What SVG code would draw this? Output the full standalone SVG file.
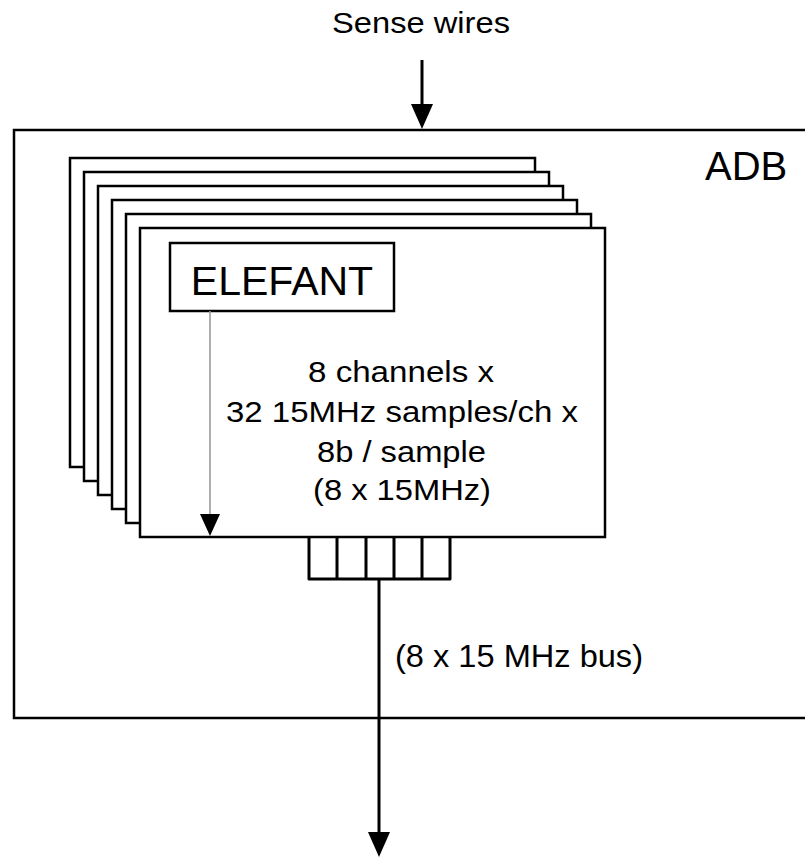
<svg xmlns="http://www.w3.org/2000/svg" width="805" height="859" viewBox="0 0 805 859">
  <style>
    .box { fill: #ffffff; stroke: #000000; stroke-width: 2.5; }
    .txt { font-family: "Liberation Sans", Arial, sans-serif; fill: #000000; }
    .wire { stroke: #000000; stroke-width: 3; fill: none; }
    .gray { stroke: #9a9a9a; stroke-width: 1.6; fill: none; }
  </style>
  <defs>
    <marker id="head" viewBox="0 0 25 22" refX="4" refY="11" markerWidth="25" markerHeight="22" markerUnits="userSpaceOnUse" orient="auto">
      <path d="M0,0 L25,11 L0,22 Z" fill="#000000"/>
    </marker>
    <marker id="headSmall" viewBox="0 0 22 20" refX="4" refY="10" markerWidth="22" markerHeight="20" markerUnits="userSpaceOnUse" orient="auto">
      <path d="M0,0 L22,10 L0,20 Z" fill="#000000"/>
    </marker>
  </defs>
  <rect width="805" height="859" fill="#ffffff"/>

  <g id="label-sense">
    <text class="txt" x="332" y="33" font-size="30" textLength="178" lengthAdjust="spacingAndGlyphs">Sense wires</text>
  </g>

  <g id="adb">
    <rect class="box" x="14" y="130" width="800" height="588" stroke-width="2"/>
    <text class="txt" x="705" y="180" font-size="40">ADB</text>
  </g>

  <g id="cards">
    <rect class="box" x="70" y="158" width="465" height="309"/>
    <rect class="box" x="84" y="172" width="465" height="309"/>
    <rect class="box" x="98" y="186" width="465" height="309"/>
    <rect class="box" x="112" y="200" width="465" height="309"/>
    <rect class="box" x="126" y="214" width="465" height="309"/>
  </g>

  <g id="front-card">
    <rect class="box" x="140" y="228" width="465" height="309"/>
    <text class="txt" x="308" y="382" font-size="30" textLength="186" lengthAdjust="spacingAndGlyphs">8 channels x</text>
    <text class="txt" x="226" y="422" font-size="30" textLength="352" lengthAdjust="spacingAndGlyphs">32 15MHz samples/ch x</text>
    <text class="txt" x="317" y="462" font-size="30" textLength="169" lengthAdjust="spacingAndGlyphs">8b / sample</text>
    <text class="txt" x="313" y="500" font-size="30" textLength="178" lengthAdjust="spacingAndGlyphs">(8 x 15MHz)</text>
  </g>

  <g id="elefant">
    <rect class="box" x="170" y="243" width="224" height="68"/>
    <text class="txt" x="282" y="295" font-size="41" text-anchor="middle">ELEFANT</text>
  </g>

  <g id="bus-label">
    <text class="txt" x="395" y="667" font-size="31" textLength="248" lengthAdjust="spacingAndGlyphs">(8 x 15 MHz bus)</text>
  </g>

  <g id="connectors">
    <line class="wire" x1="422" y1="60" x2="422" y2="108" marker-end="url(#head)"/>
    <line class="gray" x1="210" y1="311" x2="210" y2="518" marker-end="url(#headSmall)"/>
    <path class="wire" d="M309,537 V579 H450 V537 M337,537 V579 M366,537 V579 M394,537 V579 M422,537 V579" stroke-linejoin="round"/>
    <line class="wire" x1="379" y1="579" x2="379" y2="836" marker-end="url(#head)"/>
  </g>
</svg>
